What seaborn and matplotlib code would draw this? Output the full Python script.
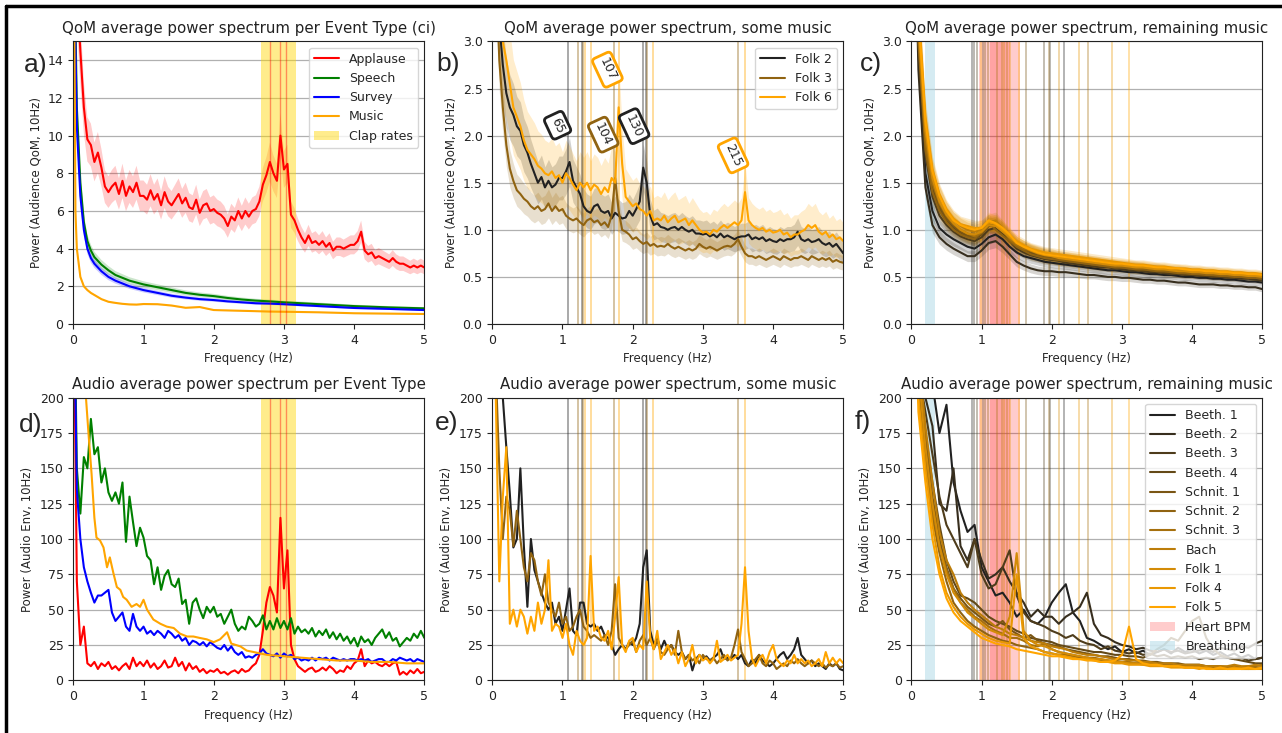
import numpy as np
import pandas as pd
import matplotlib
matplotlib.use("Agg")
import matplotlib.pyplot as plt
import seaborn as sns
from matplotlib.colors import to_rgb
from matplotlib.lines import Line2D

# frequency grids (Hz)
F05 = np.round(np.arange(101) * 0.05, 2)
F10 = np.round(np.arange(51) * 0.1, 1)

# ---- a) QoM per event type ----
qom_applause = [
    40, 18, 14.5, 11.5, 9.8, 9.5, 8.6, 9.1, 8.3, 7.3,
    7.0, 7.3, 7.5, 6.9, 7.6, 6.8, 7.3, 7.0, 7.5, 6.8,
    6.8, 6.6, 7.1, 6.6, 6.9, 6.3, 7.0, 6.5, 6.3, 6.6,
    6.9, 6.4, 6.7, 6.2, 6.1, 6.6, 5.9, 6.3, 6.4, 6.0,
    6.1, 5.9, 5.8, 5.6, 5.2, 5.7, 5.5, 6.0, 5.6, 6.0,
    5.7, 6.0, 6.1, 6.5, 7.4, 7.9, 8.6, 8.0, 7.6, 10.0,
    8.2, 8.5, 5.8, 5.5, 5.0, 4.6, 4.3, 4.7, 4.3, 4.4,
    4.2, 4.4, 4.1, 4.3, 3.9, 4.1, 4.1, 4.0, 4.1, 4.2,
    4.2, 4.4, 4.9, 3.9, 3.7, 3.8, 3.5, 3.6, 3.5, 3.4,
    3.3, 3.5, 3.3, 3.2, 3.2, 3.1, 3.0, 3.1, 3.0, 3.1,
    3.0]
qom_smooth_freq = [0, 0.03, 0.05, 0.1, 0.15, 0.2, 0.25, 0.3, 0.4, 0.5, 0.6, 0.7, 0.8, 0.9,
                   1.0, 1.2, 1.4, 1.6, 1.8, 2.0, 2.2, 2.4, 2.6, 2.8, 3.0, 3.5, 4.0, 4.5, 5.0]
qom_speech = [40, 16, 11.5, 7.5, 5.4, 4.4, 3.9, 3.55, 3.15, 2.85, 2.6, 2.45, 2.3, 2.2,
              2.1, 1.95, 1.8, 1.65, 1.55, 1.48, 1.38, 1.3, 1.24, 1.2, 1.15, 1.05, 0.95, 0.88, 0.83]
qom_survey = [40, 15, 10.5, 6.8, 5.0, 4.0, 3.5, 3.2, 2.8, 2.5, 2.3, 2.15, 2.0, 1.9,
              1.8, 1.65, 1.5, 1.4, 1.32, 1.27, 1.2, 1.15, 1.1, 1.08, 1.05, 0.95, 0.85, 0.8, 0.74]
qom_music = [25, 6.0, 4.0, 2.5, 2.0, 1.8, 1.65, 1.54, 1.32, 1.18, 1.12, 1.07, 1.04, 1.03,
             1.06, 1.05, 0.98, 0.86, 0.9, 0.74, 0.72, 0.7, 0.68, 0.66, 0.65, 0.62, 0.57, 0.55, 0.53]

# ---- d) Audio per event type ----
aud_speech = [
    320, 150, 118, 158, 150, 185, 160, 165, 140, 150,
    133, 127, 133, 125, 140, 98, 130, 112, 95, 108,
    101, 88, 85, 68, 80, 64, 74, 78, 68, 66,
    72, 54, 57, 40, 55, 58, 50, 44, 52, 48,
    52, 45, 47, 40, 45, 50, 40, 35, 38, 36,
    45, 42, 38, 40, 46, 36, 42, 36, 44, 37,
    42, 36, 44, 33, 38, 34, 36, 33, 37, 31,
    35, 32, 36, 30, 34, 29, 33, 28, 31, 26,
    30, 24, 31, 27, 29, 25, 30, 33, 36, 30,
    34, 28, 30, 24, 27, 30, 28, 33, 30, 35,
    30]
aud_survey = [
    300, 135, 100, 80, 70, 62, 55, 60, 60, 62,
    64, 48, 42, 45, 48, 38, 35, 47, 38, 35,
    38, 33, 35, 32, 35, 33, 30, 35, 33, 30,
    32, 28, 30, 25, 28, 27, 25, 27, 24, 27,
    25, 23, 22, 25, 21, 24, 20, 18, 20, 16,
    17, 16, 18, 19, 22, 19, 18, 17, 19, 16,
    19, 17, 18, 15, 16, 14, 15, 14, 16, 14,
    16, 15, 16, 14, 16, 15, 14, 15, 14, 15,
    15, 14, 15, 14, 15, 13, 14, 15, 15, 13,
    13, 15, 14, 16, 15, 14, 15, 13, 15, 14,
    13]
aud_applause = [
    300, 70, 25, 38, 12, 10, 13, 8, 12, 10,
    13, 8, 10, 7, 10, 12, 8, 16, 10, 13,
    10, 14, 9, 12, 8, 10, 14, 9, 10, 16,
    10, 13, 7, 12, 8, 10, 6, 8, 5, 7,
    6, 8, 5, 6, 4, 6, 7, 5, 8, 6,
    7, 10, 12, 18, 35, 55, 66, 60, 48, 115,
    65, 92, 25, 15, 10, 8, 6, 8, 9, 6,
    7, 9, 7, 10, 8, 5, 7, 6, 10, 8,
    12, 14, 22, 10, 14, 12, 13, 11, 10, 12,
    10, 12, 13, 4, 6, 4, 7, 5, 8, 5,
    6]
aud_music_freq = [0.0, 0.18, 0.22, 0.26, 0.3, 0.33, 0.38, 0.43, 0.48, 0.52,
                  0.57, 0.62, 0.67, 0.71, 0.76, 0.83, 0.9, 0.95, 1.0, 1.05,
                  1.14, 1.24, 1.33, 1.43, 1.52, 1.62, 1.71, 1.8, 1.9, 2.0,
                  2.09, 2.19, 2.25, 2.38, 2.47, 2.57, 2.66, 2.76, 3.0, 3.25,
                  3.5, 3.75, 4.0, 4.25, 4.5, 4.75, 5.0]
aud_music = [400, 200, 172, 146, 115, 101, 99, 94, 80, 87,
             76, 66, 64, 59, 57, 52, 54, 52, 57, 50,
             43, 40, 38, 37, 33, 31, 31, 30, 29, 27,
             29, 34, 26, 24, 21, 20, 19, 18, 17, 16,
             15, 14, 14, 13, 13, 12, 12]

# ---- b) / e) some music ----
some_pieces = ["Folk 2", "Folk 3", "Folk 6"]
qom_folk2 = [
    6.0, 4.0, 3.2, 2.75, 2.45, 2.3, 2.22, 2.1, 2.05, 1.9,
    1.82, 1.7, 1.6, 1.5, 1.56, 1.45, 1.52, 1.45, 1.48, 1.55,
    1.55, 1.62, 1.72, 1.52, 1.45, 1.38, 1.25, 1.2, 1.18, 1.25,
    1.27, 1.2, 1.18, 1.2, 1.12, 1.18, 1.15, 1.12, 1.13, 1.2,
    1.15, 1.22, 1.3, 1.66, 1.5, 1.15, 1.05, 1.07, 1.03, 1.02,
    1.0, 1.02, 1.03, 1.0, 1.03, 1.0, 0.98, 1.0, 0.96, 0.96,
    0.95, 0.96, 0.93, 0.95, 0.92, 0.96, 0.92, 0.94, 0.92, 0.9,
    0.92, 0.93, 0.93, 0.95, 0.9, 0.92, 0.9, 0.92, 0.88, 0.9,
    0.88, 0.87, 0.9, 0.88, 0.9, 0.9, 0.92, 0.98, 0.9, 0.88,
    0.9, 0.87, 0.88, 0.9, 0.86, 0.84, 0.86, 0.82, 0.85, 0.8,
    0.75]
qom_folk3 = [
    6.0, 3.8, 2.8, 2.3, 1.9, 1.65, 1.52, 1.42, 1.38, 1.33,
    1.3, 1.25, 1.22, 1.25, 1.2, 1.22, 1.28, 1.2, 1.25, 1.2,
    1.22, 1.15, 1.12, 1.1, 1.12, 1.08, 1.05, 1.1, 1.12, 1.08,
    1.1, 1.05, 1.08, 1.03, 1.15, 1.55, 1.2, 1.0, 0.98, 0.95,
    0.9, 0.92, 0.88, 0.85, 0.87, 0.83, 0.85, 0.82, 0.83, 0.82,
    0.85, 0.82, 0.8, 0.82, 0.8, 0.78, 0.8, 0.78, 0.8, 0.85,
    0.82, 0.8, 0.82, 0.8, 0.78, 0.8, 0.82, 0.83, 0.82, 0.85,
    0.9, 0.82, 0.75, 0.72, 0.72, 0.7, 0.72, 0.7, 0.68, 0.7,
    0.72, 0.7, 0.68, 0.72, 0.7, 0.68, 0.7, 0.7, 0.72, 0.7,
    0.68, 0.72, 0.7, 0.68, 0.7, 0.68, 0.7, 0.66, 0.68, 0.66,
    0.65]
qom_folk6 = [
    6.0, 4.2, 3.4, 3.0, 2.8, 2.55, 2.3, 2.2, 2.1, 1.95,
    1.85, 1.8, 1.75, 1.68, 1.65, 1.6, 1.58, 1.62, 1.55, 1.58,
    1.5, 1.6, 1.55, 1.48, 1.42, 1.5, 1.45, 1.5, 1.42, 1.48,
    1.45, 1.38, 1.45, 1.4, 1.55, 1.5, 2.3, 1.7, 1.35, 1.3,
    1.25, 1.28, 1.22, 1.2, 1.15, 1.2, 1.1, 1.12, 1.1, 1.15,
    1.08, 1.12, 1.15, 1.08, 1.1, 1.12, 1.05, 1.1, 1.05, 1.0,
    0.97, 0.98, 0.95, 1.0, 0.98, 1.02, 1.05, 1.02, 1.05, 1.08,
    1.05, 1.1, 1.4, 1.1, 1.05, 1.02, 1.0, 1.02, 0.98, 1.0,
    0.97, 0.98, 1.0, 0.95, 0.97, 0.92, 0.95, 0.95, 0.98, 1.0,
    1.05, 1.02, 1.05, 0.98, 0.95, 0.98, 0.92, 0.95, 0.9, 0.92,
    0.88]
aud_folk2 = [
    300, 260, 220, 200, 165, 132, 94, 100, 150, 95,
    52, 100, 78, 70, 62, 55, 50, 55, 40, 45,
    35, 50, 65, 35, 32, 55, 55, 40, 38, 40,
    35, 38, 32, 30, 25, 18, 22, 25, 22, 27,
    25, 30, 40, 80, 92, 35, 25, 30, 22, 28,
    22, 25, 20, 18, 20, 15, 18, 7, 15, 18,
    15, 17, 14, 16, 18, 22, 15, 16, 15, 18,
    15, 18, 12, 10, 15, 12, 18, 14, 12, 10,
    12, 15, 18, 20, 15, 18, 22, 30, 18, 15,
    12, 14, 10, 12, 10, 8, 12, 10, 12, 8,
    7]
aud_folk3 = [
    300, 220, 150, 100, 130, 120, 95, 120, 100, 80,
    70, 90, 85, 70, 60, 75, 55, 50, 45, 55,
    40, 45, 35, 38, 45, 50, 38, 35, 30, 32,
    30, 28, 32, 25, 35, 68, 30, 25, 22, 25,
    28, 20, 28, 32, 25, 30, 22, 28, 20, 18,
    22, 25, 18, 35, 20, 15, 18, 14, 16, 12,
    18, 15, 14, 16, 12, 15, 18, 14, 16, 25,
    36, 20, 15, 10, 12, 15, 18, 12, 10, 14,
    12, 8, 10, 12, 10, 14, 12, 15, 12, 10,
    12, 14, 12, 10, 12, 9, 11, 10, 12, 9,
    10]
aud_folk6 = [
    260, 200, 70, 130, 165, 40, 50, 38, 50, 45,
    33, 45, 35, 55, 40, 50, 85, 35, 40, 38,
    30, 40, 25, 18, 35, 28, 25, 30, 88, 35,
    38, 30, 28, 35, 22, 45, 73, 25, 20, 28,
    30, 20, 25, 22, 70, 30, 22, 35, 15, 20,
    25, 18, 22, 12, 20, 10, 15, 25, 12, 18,
    14, 16, 12, 15, 28, 13, 15, 18, 14, 16,
    18, 40, 80, 35, 15, 10, 15, 18, 12, 20,
    25, 15, 12, 10, 14, 12, 18, 12, 15, 12,
    14, 10, 12, 15, 10, 20, 12, 16, 12, 15,
    12]
some_tempi = {"Folk 2": [1.073, 1.273, 2.151, 2.19],
              "Folk 3": [1.216, 1.296, 1.738, 2.208, 3.5],
              "Folk 6": [1.315, 1.41, 1.804, 2.293, 3.594]}
bpm_labels = [("Folk 2", "65", 0.93, 2.11), ("Folk 3", "104", 1.58, 2.01),
              ("Folk 6", "107", 1.64, 2.70), ("Folk 2", "130", 2.02, 2.10),
              ("Folk 6", "215", 3.43, 1.79)]

# ---- c) / f) remaining music ----
rest_pieces = ["Beeth. 1", "Beeth. 2", "Beeth. 3", "Beeth. 4", "Schnit. 1", "Schnit. 2",
               "Schnit. 3", "Bach", "Folk 1", "Folk 4", "Folk 5"]
qom_rest = {
    "Beeth. 1": [6.0, 2.9, 1.6, 1.2, 1.02, 0.95, 0.9, 0.86, 0.82, 0.8,
                 0.85, 0.92, 0.95, 0.9, 0.82, 0.76, 0.72, 0.7, 0.68, 0.66,
                 0.65, 0.64, 0.63, 0.62, 0.61, 0.6, 0.59, 0.58, 0.57, 0.57,
                 0.56, 0.55, 0.55, 0.54, 0.53, 0.53, 0.52, 0.52, 0.51, 0.5,
                 0.5, 0.49, 0.49, 0.48, 0.48, 0.47, 0.47, 0.46, 0.45, 0.45, 0.44],
    "Beeth. 2": [6.0, 2.7, 1.45, 1.05, 0.92, 0.85, 0.8, 0.76, 0.72, 0.72,
                 0.78, 0.86, 0.88, 0.82, 0.74, 0.66, 0.62, 0.59, 0.57, 0.56,
                 0.56, 0.55, 0.55, 0.54, 0.53, 0.52, 0.52, 0.51, 0.5, 0.5,
                 0.49, 0.49, 0.48, 0.47, 0.47, 0.46, 0.46, 0.45, 0.44, 0.44,
                 0.43, 0.42, 0.42, 0.42, 0.41, 0.41, 0.4, 0.4, 0.39, 0.39, 0.37],
    "Beeth. 3": [6.0, 3.0, 1.8, 1.35, 1.15, 1.05, 0.98, 0.93, 0.9, 0.88,
                 0.92, 1.0, 1.02, 0.96, 0.88, 0.8, 0.76, 0.73, 0.71, 0.69,
                 0.68, 0.67, 0.65, 0.64, 0.63, 0.62, 0.61, 0.6, 0.6, 0.59,
                 0.58, 0.57, 0.57, 0.56, 0.55, 0.55, 0.54, 0.53, 0.53, 0.52,
                 0.52, 0.51, 0.51, 0.5, 0.5, 0.49, 0.49, 0.48, 0.48, 0.47, 0.46],
    "Beeth. 4": [6.0, 3.1, 1.9, 1.45, 1.22, 1.1, 1.02, 0.97, 0.93, 0.9,
                 0.95, 1.05, 1.05, 0.98, 0.9, 0.82, 0.78, 0.75, 0.73, 0.71,
                 0.7, 0.68, 0.67, 0.66, 0.65, 0.64, 0.63, 0.62, 0.61, 0.6,
                 0.6, 0.59, 0.58, 0.57, 0.57, 0.56, 0.55, 0.55, 0.54, 0.53,
                 0.53, 0.52, 0.52, 0.51, 0.51, 0.5, 0.5, 0.5, 0.49, 0.49, 0.48],
    "Schnit. 1": [6.0, 3.2, 2.0, 1.5, 1.25, 1.12, 1.04, 0.98, 0.94, 0.92,
                  0.96, 1.04, 1.06, 1.0, 0.92, 0.84, 0.8, 0.77, 0.74, 0.72,
                  0.71, 0.7, 0.69, 0.68, 0.67, 0.66, 0.65, 0.64, 0.63, 0.62,
                  0.61, 0.6, 0.6, 0.59, 0.58, 0.58, 0.57, 0.56, 0.56, 0.55,
                  0.55, 0.54, 0.54, 0.53, 0.53, 0.52, 0.52, 0.51, 0.51, 0.5, 0.5],
    "Schnit. 2": [6.0, 3.0, 1.85, 1.4, 1.2, 1.08, 1.0, 0.95, 0.92, 0.9,
                  0.98, 1.08, 1.0, 0.94, 0.88, 0.82, 0.78, 0.74, 0.72, 0.7,
                  0.69, 0.68, 0.67, 0.66, 0.65, 0.64, 0.63, 0.62, 0.61, 0.6,
                  0.6, 0.59, 0.58, 0.58, 0.57, 0.56, 0.56, 0.55, 0.54, 0.54,
                  0.53, 0.53, 0.52, 0.52, 0.51, 0.51, 0.5, 0.5, 0.49, 0.49, 0.48],
    "Schnit. 3": [6.0, 3.1, 1.95, 1.5, 1.28, 1.15, 1.06, 1.0, 0.96, 0.93,
                  0.97, 1.06, 1.08, 1.0, 0.9, 0.84, 0.8, 0.78, 0.76, 0.74,
                  0.72, 0.71, 0.7, 0.69, 0.68, 0.67, 0.66, 0.65, 0.64, 0.63,
                  0.62, 0.62, 0.61, 0.6, 0.59, 0.59, 0.58, 0.57, 0.57, 0.56,
                  0.55, 0.55, 0.54, 0.54, 0.53, 0.53, 0.52, 0.52, 0.51, 0.51, 0.5],
    "Bach": [6.0, 3.3, 2.1, 1.6, 1.35, 1.2, 1.1, 1.04, 1.0, 0.98,
             1.0, 1.08, 1.1, 1.02, 0.93, 0.86, 0.82, 0.79, 0.77, 0.75,
             0.74, 0.72, 0.71, 0.7, 0.69, 0.68, 0.67, 0.66, 0.65, 0.64,
             0.63, 0.62, 0.62, 0.61, 0.6, 0.6, 0.59, 0.58, 0.58, 0.57,
             0.57, 0.56, 0.56, 0.55, 0.55, 0.54, 0.54, 0.53, 0.53, 0.52, 0.52],
    "Folk 1": [6.0, 3.2, 2.05, 1.55, 1.3, 1.16, 1.07, 1.0, 0.96, 0.95,
               0.98, 1.05, 1.04, 0.98, 0.92, 0.86, 0.82, 0.78, 0.75, 0.73,
               0.72, 0.7, 0.69, 0.68, 0.67, 0.66, 0.65, 0.64, 0.63, 0.62,
               0.62, 0.61, 0.6, 0.6, 0.59, 0.58, 0.58, 0.57, 0.56, 0.56,
               0.55, 0.55, 0.54, 0.54, 0.53, 0.53, 0.52, 0.52, 0.51, 0.51, 0.5],
    "Folk 4": [6.0, 3.4, 2.2, 1.65, 1.38, 1.22, 1.12, 1.06, 1.04, 1.02,
               1.02, 1.08, 1.06, 1.0, 0.94, 0.88, 0.84, 0.8, 0.78, 0.76,
               0.75, 0.74, 0.73, 0.72, 0.71, 0.7, 0.69, 0.68, 0.67, 0.66,
               0.65, 0.64, 0.63, 0.63, 0.62, 0.61, 0.61, 0.6, 0.59, 0.59,
               0.58, 0.58, 0.57, 0.57, 0.56, 0.56, 0.55, 0.55, 0.54, 0.54, 0.53],
    "Folk 5": [6.0, 3.3, 2.15, 1.62, 1.36, 1.2, 1.1, 1.05, 1.02, 1.0,
               1.02, 1.1, 1.07, 1.02, 0.95, 0.86, 0.82, 0.79, 0.76, 0.74,
               0.73, 0.72, 0.71, 0.7, 0.69, 0.68, 0.67, 0.66, 0.65, 0.64,
               0.64, 0.63, 0.62, 0.62, 0.61, 0.6, 0.6, 0.59, 0.59, 0.58,
               0.57, 0.57, 0.56, 0.56, 0.55, 0.55, 0.54, 0.54, 0.53, 0.53, 0.52],
}
aud_rest = {
    "Beeth. 1": [400, 260, 230, 210, 175, 195, 140, 120, 105, 110,
                 80, 70, 60, 62, 55, 45, 50, 42, 40, 45,
                 55, 62, 68, 48, 42, 30, 28, 25, 22, 24,
                 20, 22, 19, 21, 18, 20, 22, 19, 23, 20,
                 22, 19, 21, 18, 20, 17, 19, 16, 18, 15, 16],
    "Beeth. 2": [400, 240, 200, 180, 125, 120, 150, 95, 85, 100,
                 85, 72, 75, 80, 70, 62, 55, 45, 50, 45,
                 45, 40, 45, 48, 52, 62, 40, 32, 30, 27,
                 25, 24, 22, 23, 21, 20, 22, 20, 21, 19,
                 20, 21, 22, 20, 23, 22, 21, 24, 23, 26, 28],
    "Beeth. 3": [400, 220, 190, 160, 130, 110, 100, 90, 80, 100,
                 75, 65, 68, 80, 92, 60, 48, 42, 40, 38,
                 35, 33, 30, 32, 28, 26, 25, 22, 24, 21,
                 20, 19, 20, 18, 19, 17, 18, 16, 17, 16,
                 17, 15, 16, 15, 17, 16, 15, 16, 14, 15, 16],
    "Beeth. 4": [380, 210, 175, 140, 110, 85, 70, 60, 58, 55,
                 50, 45, 42, 40, 38, 35, 33, 30, 29, 28,
                 27, 25, 24, 23, 22, 21, 20, 20, 19, 18,
                 18, 17, 17, 16, 18, 22, 25, 30, 28, 35,
                 42, 45, 30, 22, 18, 16, 15, 14, 13, 12, 12],
    "Schnit. 1": [380, 230, 170, 130, 100, 80, 65, 58, 52, 48,
                  44, 40, 38, 42, 36, 33, 30, 32, 28, 26,
                  25, 24, 22, 21, 20, 19, 18, 17, 17, 16,
                  15, 15, 14, 14, 13, 13, 12, 12, 12, 11,
                  11, 11, 10, 10, 10, 9, 10, 9, 9, 9, 9],
    "Schnit. 2": [390, 210, 160, 115, 90, 70, 55, 48, 42, 38,
                  35, 32, 30, 28, 27, 25, 24, 23, 22, 20,
                  19, 18, 18, 17, 16, 16, 15, 14, 14, 13,
                  13, 12, 12, 12, 11, 11, 11, 10, 10, 10,
                  10, 9, 9, 9, 9, 8, 9, 8, 8, 9, 8],
    "Schnit. 3": [380, 200, 155, 120, 95, 78, 65, 55, 50, 45,
                  42, 38, 35, 33, 30, 30, 28, 25, 24, 26,
                  22, 20, 19, 18, 17, 16, 16, 15, 14, 14,
                  13, 13, 12, 12, 12, 11, 11, 11, 10, 10,
                  10, 10, 9, 10, 9, 9, 10, 9, 10, 10, 11],
    "Bach": [380, 230, 180, 140, 105, 85, 75, 62, 55, 50,
             46, 42, 38, 36, 33, 32, 30, 28, 27, 26,
             24, 23, 22, 20, 19, 18, 18, 17, 16, 15,
             15, 14, 14, 13, 13, 12, 12, 12, 11, 11,
             11, 11, 10, 10, 10, 10, 11, 10, 10, 11, 10],
    "Folk 1": [380, 220, 165, 125, 95, 75, 62, 55, 48, 44,
               40, 36, 34, 32, 45, 90, 35, 28, 25, 24,
               22, 20, 19, 18, 17, 16, 15, 15, 14, 13,
               13, 12, 12, 11, 11, 11, 10, 10, 10, 9,
               9, 9, 9, 8, 9, 8, 8, 9, 8, 8, 9],
    "Folk 4": [370, 200, 150, 110, 80, 62, 52, 45, 40, 36,
               33, 30, 28, 27, 26, 75, 30, 24, 22, 20,
               19, 18, 17, 16, 15, 15, 14, 13, 13, 12,
               12, 11, 11, 11, 10, 10, 10, 9, 9, 9,
               9, 8, 9, 8, 8, 8, 9, 8, 8, 8, 8],
    "Folk 5": [370, 190, 140, 100, 75, 58, 48, 42, 38, 34,
               30, 28, 26, 25, 24, 22, 21, 20, 19, 18,
               17, 17, 16, 15, 15, 14, 14, 13, 13, 14,
               18, 38, 15, 12, 11, 11, 10, 10, 10, 9,
               9, 9, 8, 8, 9, 8, 8, 8, 9, 8, 9],
}
rest_tempi = {"Beeth. 1": [0.863, 2.168], "Beeth. 2": [0.897, 1.969],
              "Beeth. 3": [0.935, 1.893], "Beeth. 4": [1.02],
              "Schnit. 1": [1.044, 1.632], "Schnit. 2": [1.09, 1.955],
              "Schnit. 3": [1.22, 2.52], "Bach": [1.295, 1.36],
              "Folk 1": [1.32, 2.097], "Folk 4": [1.41, 2.39, 2.855],
              "Folk 5": [0.996, 1.54, 3.106]}

clap_span = (2.67, 3.17)
clap_rates = [2.8, 2.95, 3.03]
heart_spans = [(0.97, 1.40), (1.12, 1.55)]
breath_span = (0.2, 0.33)

event_colors = {"Applause": "red", "Speech": "green", "Survey": "blue", "Music": "orange"}


def ramp(n):
    dark = np.array([0.13, 0.13, 0.13])
    org = np.array(to_rgb("orange"))
    return [tuple(dark + (org - dark) * t) for t in np.linspace(0, 1, n)]


some_colors = dict(zip(some_pieces, ramp(3)))
rest_colors = dict(zip(rest_pieces, ramp(len(rest_pieces))))


def long_df(freqs, series):
    parts = []
    for name, vals in series.items():
        parts.append(pd.DataFrame({"freq": freqs[name], "power": vals, "series": name}))
    return pd.concat(parts, ignore_index=True)


sns.set_style("ticks")
plt.rcParams["font.family"] = ["DejaVu Sans"]

fig = plt.figure(figsize=(12.82, 7.33), dpi=100)
lefts = [0.0572, 0.384, 0.7109]
bottoms = [0.558, 0.0719]
W, H = 0.2738, 0.3855
axes = [[fig.add_axes([l, b, W, H]) for l in lefts] for b in bottoms]


def style(ax, title, ylabel, ylim, yticks):
    ax.set_xlim(0, 5)
    ax.set_ylim(*ylim)
    ax.set_yticks(yticks)
    ax.set_xticks(range(6))
    ax.set_title(title, fontsize=10.8, color="#222222")
    ax.set_xlabel("Frequency (Hz)", fontsize=8.5)
    ax.set_ylabel(ylabel, fontsize=8.5)
    ax.tick_params(labelsize=9, colors="#222222")
    ax.grid(axis="y", color="#b0b0b0", lw=0.9)
    ax.set_axisbelow(True)
    for s in ax.spines.values():
        s.set_color("#222222")


qom_lab = "Power (Audience QoM, 10Hz)"
aud_lab = "Power (Audio Env, 10Hz)"

# a) QoM per event type
ax = axes[0][0]
qom_events = {"Applause": qom_applause, "Speech": qom_speech, "Survey": qom_survey, "Music": qom_music}
ev_freqs = {"Applause": F05, "Speech": qom_smooth_freq, "Survey": qom_smooth_freq, "Music": qom_smooth_freq}
ci_rel = {"Applause": 0.12, "Speech": 0.08, "Survey": 0.07, "Music": 0.03}
df = long_df(ev_freqs, qom_events)
sns.lineplot(data=df, x="freq", y="power", hue="series", palette=event_colors,
             estimator=None, ax=ax, lw=1.5)
for name, vals in qom_events.items():
    v = np.array(vals, dtype=float)
    ax.fill_between(ev_freqs[name], v * (1 - ci_rel[name]), v * (1 + ci_rel[name]),
                    color=event_colors[name], alpha=0.2, lw=0)
ax.axvspan(*clap_span, color="gold", alpha=0.45, lw=0, label="Clap rates")
for f in clap_rates:
    ax.axvline(f, color="red", alpha=0.4, lw=1)
style(ax, "QoM average power spectrum per Event Type (ci)", qom_lab, (0, 15), range(0, 15, 2))
ax.legend(loc="upper right", fontsize=9, frameon=True)

# d) audio per event type
ax = axes[1][0]
aud_events = {"Applause": aud_applause, "Speech": aud_speech, "Survey": aud_survey, "Music": aud_music}
aud_freqs = {"Applause": F05, "Speech": F05, "Survey": F05, "Music": aud_music_freq}
df = long_df(aud_freqs, aud_events)
ax.axvspan(*clap_span, color="gold", alpha=0.45, lw=0)
for f in clap_rates:
    ax.axvline(f, color="red", alpha=0.4, lw=1)
sns.lineplot(data=df, x="freq", y="power", hue="series", palette=event_colors,
             estimator=None, ax=ax, lw=1.5, legend=False)
style(ax, "Audio average power spectrum per Event Type", aud_lab, (0, 200), range(0, 201, 25))

# b) QoM some music
ax = axes[0][1]
qom_some = {"Folk 2": qom_folk2, "Folk 3": qom_folk3, "Folk 6": qom_folk6}
some_ci = {"Folk 2": 0.15, "Folk 3": 0.12, "Folk 6": 0.22}
for name in some_pieces:
    for f in some_tempi[name]:
        ax.axvline(f, color=some_colors[name], alpha=0.45, lw=1.2)
df = long_df({k: F05 for k in qom_some}, qom_some)
sns.lineplot(data=df, x="freq", y="power", hue="series", palette=some_colors,
             estimator=None, ax=ax, lw=1.5)
for name, vals in qom_some.items():
    v = np.array(vals, dtype=float)
    ax.fill_between(F05, v * (1 - some_ci[name]), v * (1 + some_ci[name]),
                    color=some_colors[name], alpha=0.2, lw=0)
for name, txt, tx, ty in bpm_labels:
    ax.text(tx, ty, txt, rotation=-65, ha="center", va="center", fontsize=9,
            bbox=dict(boxstyle="round,pad=0.3", fc="white", ec=some_colors[name], lw=2))
style(ax, "QoM average power spectrum, some music", qom_lab, (0, 3), np.arange(0, 3.01, 0.5))
ax.legend(loc="upper right", fontsize=9, frameon=True)

# e) audio some music
ax = axes[1][1]
aud_some = {"Folk 2": aud_folk2, "Folk 3": aud_folk3, "Folk 6": aud_folk6}
for name in some_pieces:
    for f in some_tempi[name]:
        ax.axvline(f, color=some_colors[name], alpha=0.45, lw=1.2)
df = long_df({k: F05 for k in aud_some}, aud_some)
sns.lineplot(data=df, x="freq", y="power", hue="series", palette=some_colors,
             estimator=None, ax=ax, lw=1.5, legend=False)
style(ax, "Audio average power spectrum, some music", aud_lab, (0, 200), range(0, 201, 25))

# c) QoM remaining music
ax = axes[0][2]
ax.axvspan(*breath_span, color="lightblue", alpha=0.5, lw=0)
for a, b in heart_spans:
    ax.axvspan(a, b, color="red", alpha=0.2, lw=0)
for name in rest_pieces:
    for f in rest_tempi[name]:
        ax.axvline(f, color=rest_colors[name], alpha=0.4, lw=1.2)
df = long_df({k: F10 for k in qom_rest}, qom_rest)
sns.lineplot(data=df, x="freq", y="power", hue="series", palette=rest_colors,
             estimator=None, ax=ax, lw=1.5, legend=False)
for name, vals in qom_rest.items():
    v = np.array(vals, dtype=float)
    ax.fill_between(F10, v * 0.92, v * 1.08, color=rest_colors[name], alpha=0.2, lw=0)
style(ax, "QoM average power spectrum, remaining music", qom_lab, (0, 3), np.arange(0, 3.01, 0.5))

# f) audio remaining music
ax = axes[1][2]
for name in rest_pieces:
    for f in rest_tempi[name]:
        ax.axvline(f, color=rest_colors[name], alpha=0.4, lw=1.2)
df = long_df({k: F10 for k in aud_rest}, aud_rest)
sns.lineplot(data=df, x="freq", y="power", hue="series", palette=rest_colors,
             estimator=None, ax=ax, lw=1.5)
for i, (a, b) in enumerate(heart_spans):
    ax.axvspan(a, b, color="red", alpha=0.2, lw=0, label="Heart BPM" if i == 0 else None)
ax.axvspan(*breath_span, color="lightblue", alpha=0.5, lw=0, label="Breathing")
style(ax, "Audio average power spectrum, remaining music", aud_lab, (0, 200), range(0, 201, 25))
ax.legend(loc="upper right", fontsize=9, frameon=True)

# panel letters
for txt, x, y in [("a)", 0.019, 0.911), ("b)", 0.340, 0.913), ("c)", 0.671, 0.913),
                  ("d)", 0.015, 0.42), ("e)", 0.339, 0.423), ("f)", 0.667, 0.424)]:
    fig.text(x, y, txt, fontsize=19, family="Liberation Sans", va="center", ha="left")

# frame round the figure (top and left edges visible)
fig.add_artist(Line2D([0.005, 1], [0.992, 0.992], color="black", lw=2.5, transform=fig.transFigure))
fig.add_artist(Line2D([0.005, 0.005], [0, 0.992], color="black", lw=2.5, transform=fig.transFigure))

fig.savefig("out.png", dpi=100)
